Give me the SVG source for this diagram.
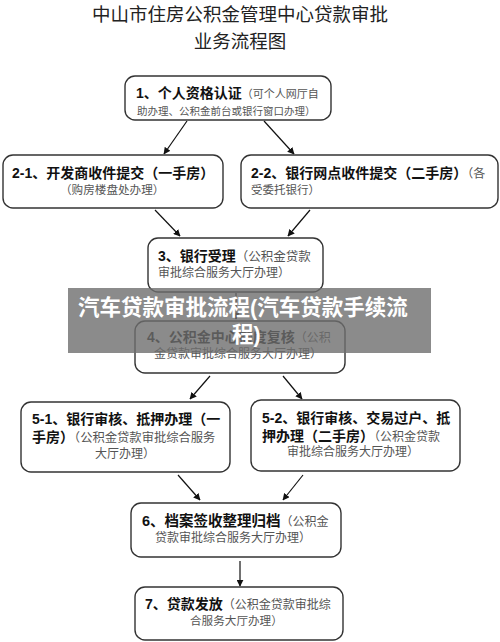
<svg xmlns="http://www.w3.org/2000/svg" width="500" height="642" viewBox="0 0 500 642">
<defs>
<marker id="ah" viewBox="0 0 10 10" refX="9" refY="5" markerWidth="7" markerHeight="7" orient="auto" markerUnits="userSpaceOnUse">
<path d="M0,0 L10,5 L0,10 z" fill="#111"/>
</marker>
<style>
text{font-family:"Liberation Sans","Noto Sans CJK SC",sans-serif;}
.t{font-size:18.5px;fill:#222;}
.box{fill:#fff;stroke:#333;stroke-width:1.4;}
.b{font-weight:bold;font-size:14px;fill:#111;}
.g{font-weight:normal;font-size:12px;fill:#555;}
.s{font-size:11px;}
.c line{stroke:#111;stroke-width:1.2;marker-end:url(#ah);}
.ban{font-weight:bold;font-size:21.5px;fill:#fff;}
</style>
</defs>
<rect width="500" height="642" fill="#fff"/>
<g id="title">
<text class="t" x="240" y="21" text-anchor="middle">中山市住房公积金管理中心贷款审批</text>
<text class="t" x="240" y="48" text-anchor="middle">业务流程图</text>
</g>
<g class="c" id="connectors">
<line x1="187" y1="121" x2="164" y2="154"/>
<line x1="264" y1="121" x2="294" y2="154"/>
<line x1="155" y1="210" x2="180" y2="236"/>
<line x1="310" y1="210" x2="288" y2="236"/>
<line x1="236" y1="293" x2="236" y2="319"/>
<line x1="210" y1="376" x2="190" y2="399"/>
<line x1="283" y1="376" x2="302" y2="399"/>
<line x1="178" y1="475" x2="200" y2="500"/>
<line x1="303" y1="475" x2="283" y2="500"/>
<line x1="240" y1="561" x2="240" y2="586"/>
</g>
<g id="n1">
<rect class="box" x="125" y="76" width="206" height="44" rx="10"/>
<text x="136" y="98"><tspan class="b">1、个人资格认证</tspan><tspan class="g s">（可个人网厅自</tspan></text>
<text class="g" x="137" y="115" style="font-size:10.5px">助办理、公积金前台或银行窗口办理）</text>
</g>
<g id="n21">
<rect class="box" x="3" y="155" width="220" height="53" rx="10"/>
<text class="b" x="12" y="178">2-1、开发商收件提交（一手房）</text>
<text class="g" x="60" y="194" style="font-size:11.6px">（购房楼盘处办理）</text>
</g>
<g id="n22">
<rect class="box" x="241" y="155" width="257" height="53" rx="10"/>
<text x="251" y="178"><tspan class="b">2-2、银行网点收件提交（二手房）</tspan><tspan class="g">（各</tspan></text>
<text class="g" x="251" y="194" style="font-size:11.5px">受委托银行）</text>
</g>
<g id="n3">
<rect class="box" x="148" y="238" width="175" height="54" rx="10"/>
<text x="158" y="261"><tspan class="b">3、银行受理</tspan><tspan class="g" style="font-size:12.5px">（公积金贷款</tspan></text>
<text class="g" x="158" y="277">审批综合服务大厅办理）</text>
</g>
<g id="n4">
<rect class="box" x="135" y="321" width="210" height="52" rx="10"/>
<text x="147" y="342"><tspan class="b">4、公积金中心额度复核</tspan><tspan class="g">（公积</tspan></text>
<text class="g" x="154" y="358">金贷款审批综合服务大厅办理）</text>
</g>
<g id="n51">
<rect class="box" x="21" y="402" width="209" height="70" rx="10"/>
<text class="b" x="32" y="424">5-1、银行审核、抵押办理（一</text>
<text x="32" y="442"><tspan class="b">手房）</tspan><tspan class="g" style="font-size:12.3px">（公积金贷款审批综合服务</tspan></text>
<text class="g" x="95" y="458">大厅办理）</text>
</g>
<g id="n52">
<rect class="box" x="251" y="400" width="209" height="71" rx="10"/>
<text class="b" x="262" y="423">5-2、银行审核、交易过户、抵</text>
<text x="262" y="441"><tspan class="b">押办理（二手房）</tspan><tspan class="g">（公积金贷款</tspan></text>
<text class="g" x="287" y="456">审批综合服务大厅办理）</text>
</g>
<g id="n6">
<rect class="box" x="131" y="503" width="210" height="54" rx="10"/>
<text x="142" y="526"><tspan class="b" style="font-size:14.5px">6、档案签收整理归档</tspan><tspan class="g">（公积金</tspan></text>
<text class="g" x="155" y="542">贷款审批综合服务大厅办理）</text>
</g>
<g id="n7">
<rect class="box" x="135" y="587" width="208" height="53" rx="10"/>
<text x="145" y="609"><tspan class="b">7、贷款发放</tspan><tspan class="g">（公积金贷款审批综</tspan></text>
<text class="g" x="190" y="625" style="font-size:11.6px">合服务大厅办理）</text>
</g>
<g id="banner">
<rect x="68" y="288" width="363" height="65" fill="#6e6e6e" opacity="0.8"/>
<text class="ban" x="78" y="315">汽车贷款审批流程(汽车贷款手续流</text>
<text class="ban" x="232" y="342">程)</text>
</g>
</svg>
